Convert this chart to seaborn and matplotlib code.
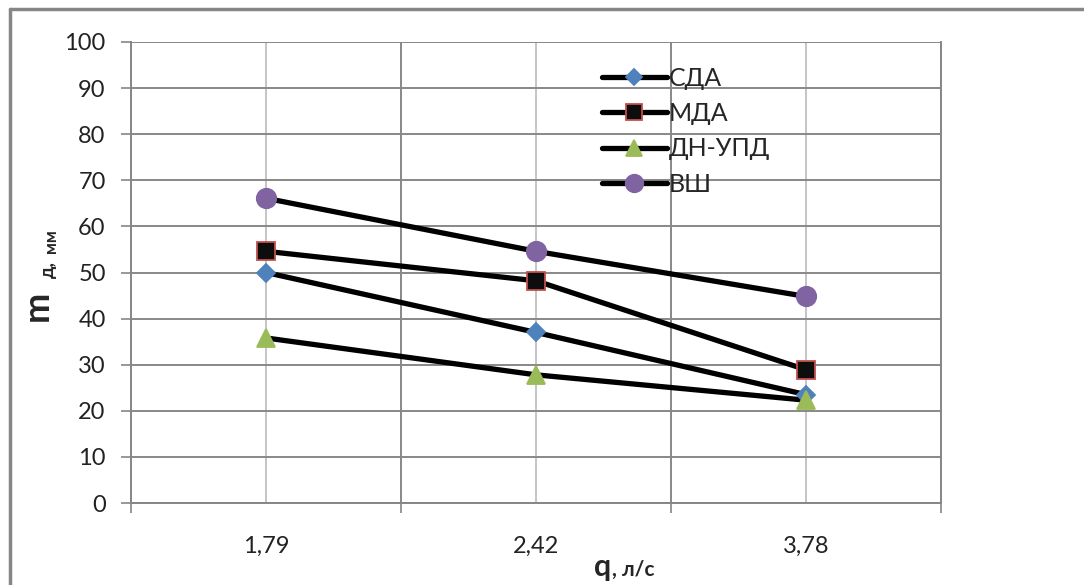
import matplotlib
matplotlib.use("Agg")
import matplotlib.pyplot as plt
from matplotlib.lines import Line2D
from matplotlib.ticker import FixedLocator
import seaborn as sns
import pandas as pd

# Données du graphique
categories = ["1,79", "2,42", "3,78"]
series_names = ["СДА", "МДА", "ДН-УПД", "ВШ"]
sda = [50, 37, 23.5]
mda = [54.6, 48.2, 28.9]
dn_upd = [35.8, 27.8, 22.3]
vsh = [66.1, 54.6, 44.8]

df = pd.DataFrame({
    "q": categories * 4,
    "m": sda + mda + dn_upd + vsh,
    "serie": [s for s in series_names for _ in categories],
})

marker_colors = {"СДА": "#4F81BD", "МДА": "#0D0D0D", "ДН-УПД": "#9BBB59", "ВШ": "#8064A2"}
edge_colors = {"СДА": "#4F81BD", "МДА": "#C0504D", "ДН-УПД": "#9BBB59", "ВШ": "#8064A2"}
marker_styles = {"СДА": "D", "МДА": "s", "ДН-УПД": "^", "ВШ": "o"}
marker_sizes = {"СДА": 9, "МДА": 13, "ДН-УПД": 13, "ВШ": 14}

sns.set_style("white")
plt.rcParams["font.family"] = ["Lato", "DejaVu Sans"]

fig = plt.figure(figsize=(10.84, 5.85), dpi=100)
ax = fig.add_axes([131 / 1084, 1 - 503 / 585, 810 / 1084, 461 / 585])

# Lignes noires épaisses
sns.lineplot(data=df, x="q", y="m", hue="serie", palette={s: "black" for s in series_names},
             linewidth=3.8, legend=False, ax=ax, sort=False, zorder=3)

# Marqueurs colorés
for s in series_names:
    sub = df[df["serie"] == s]
    ax.plot(sub["q"], sub["m"], linestyle="none", marker=marker_styles[s],
            markersize=marker_sizes[s], markerfacecolor=marker_colors[s],
            markeredgecolor=edge_colors[s], markeredgewidth=1.3, zorder=4)

ax.set_xlim(-0.5, 2.5)
ax.set_ylim(0, 100)
ax.set_yticks(range(0, 101, 10))
ax.xaxis.set_major_locator(FixedLocator([-0.5, 0.5, 1.5, 2.5]))
ax.xaxis.set_minor_locator(FixedLocator([0, 1, 2]))
ax.set_xticklabels([])
ax.set_xticklabels(categories, minor=True)
ax.tick_params(axis="x", which="major", length=7.2, width=1.2, color="#868686", direction="out", bottom=True)
ax.tick_params(axis="x", which="minor", length=0, labelsize=17, pad=24, labelcolor="#222222")
ax.tick_params(axis="y", length=7.2, width=1.2, color="#868686", direction="out", left=True,
               labelsize=17, pad=11, labelcolor="#222222")

ax.grid(True, which="major", color="#888888", linewidth=1.4)
ax.grid(True, which="minor", axis="x", color="#BBBBBB", linewidth=1.2)
ax.set_axisbelow(True)
for side, sp in ax.spines.items():
    sp.set_visible(True)
    sp.set_color("#868686")
    sp.set_linewidth(1.4)
ax.spines["top"].set_visible(False)

ax.set_xlabel("")
ax.set_ylabel("")

# Titres des axes
fig.text(54 / 1084, 1 - 306 / 585, "m", rotation=90, ha="right", va="center",
         fontsize=26, fontweight="bold")
fig.text(57 / 1084, 1 - 270 / 585, "д,", rotation=90, ha="right", va="center",
         fontsize=14, fontweight="bold")
fig.text(59 / 1084, 1 - 241 / 585, "мм", rotation=90, ha="right", va="center",
         fontsize=12, fontweight="bold")
fig.text(603 / 1084, 1 - 576 / 585, "q", ha="center", va="baseline",
         fontsize=22, fontweight="bold")
fig.text(612 / 1084, 1 - 576 / 585, ", л/с", ha="left", va="baseline",
         fontsize=15, fontweight="bold")

# Légende
handles = [Line2D([0], [0], color="black", linewidth=3.8, marker=marker_styles[s],
                  markersize=marker_sizes[s] * 0.9, markerfacecolor=marker_colors[s],
                  markeredgecolor=edge_colors[s], markeredgewidth=1.3) for s in series_names]
fig.legend(handles, series_names, loc="upper left", bbox_to_anchor=(579 / 1084, 1 - 44 / 585),
           frameon=False, fontsize=18, labelspacing=0.5, handlelength=2.6, handletextpad=0.1)

# Cadre du graphique
fig.add_artist(Line2D([10 / 1084, 10 / 1084], [0, 1 - 9 / 585], color="#868686", linewidth=2.5))
fig.add_artist(Line2D([10 / 1084, 1], [1 - 9 / 585, 1 - 9 / 585], color="#868686", linewidth=2.5))

fig.savefig("out.png", dpi=100)
